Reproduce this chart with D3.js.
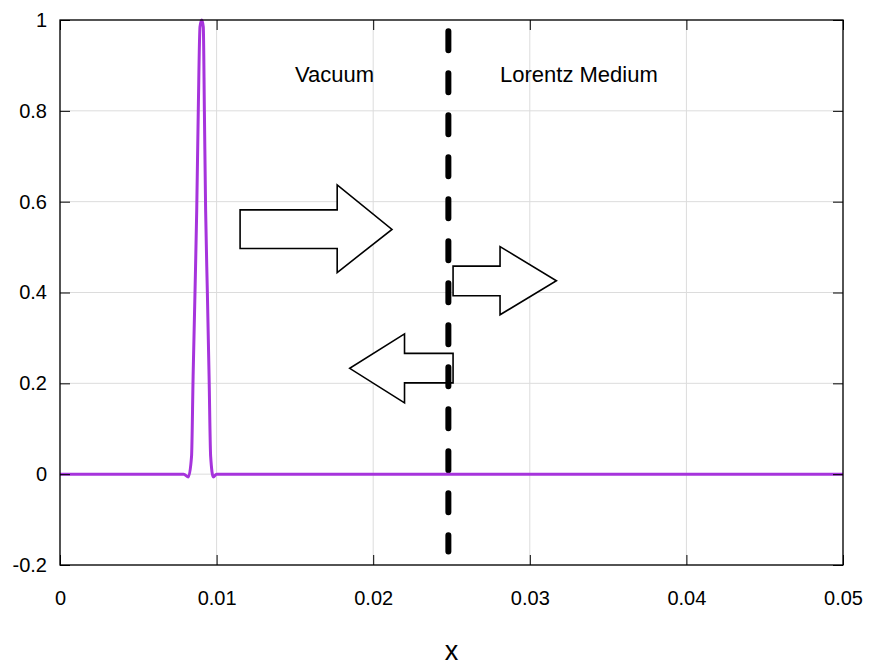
<!DOCTYPE html>
<html>
<head>
<meta charset="utf-8">
<script src="https://cdn.jsdelivr.net/npm/d3@7"></script>
<style>
  body { margin: 0; background: #fff; }
  text { font-family: "Liberation Sans", Arial, Helvetica, sans-serif; fill: #000; }
</style>
</head>
<body>
<div id="chart"></div>
<script>
// pulse (x, field)
const pulseX = [0, 0.0079, 0.0082, 0.0084, 0.0085, 0.00862, 0.00873, 0.00883, 0.00894, 0.00905,
                0.00915, 0.00922, 0.0093, 0.00941, 0.00952, 0.00962, 0.00979, 0.0100, 0.05];
const pulseY = [0, 0, -0.006, 0.039, 0.215, 0.40, 0.58, 0.80, 0.985, 1.0,
                0.985, 0.80, 0.58, 0.40, 0.215, 0.039, -0.006, 0, 0];

const xTicks = [0, 0.01, 0.02, 0.03, 0.04, 0.05];
const yTicks = [-0.2, 0, 0.2, 0.4, 0.6, 0.8, 1];

// interface between vacuum and medium
const interfaceX = 0.0248;
const interfaceY = [0.975, -0.17];

// arrow outlines in data units
const incidentArrow = [[0.0115, 0.582], [0.0177, 0.582], [0.0177, 0.637], [0.0212, 0.539],
                       [0.0177, 0.444], [0.0177, 0.497], [0.0115, 0.497]];
const transmitArrow = [[0.0251, 0.458], [0.0281, 0.458], [0.0281, 0.501], [0.0317, 0.426],
                       [0.0281, 0.351], [0.0281, 0.393], [0.0251, 0.393]];
const reflectArrow = [[0.0251, 0.266], [0.0220, 0.266], [0.0220, 0.309], [0.0185, 0.233],
                      [0.0220, 0.157], [0.0220, 0.201], [0.0251, 0.201]];

const labels = [
    { text: "Vacuum", x: 0.015, y: 0.88 },
    { text: "Lorentz Medium", x: 0.0281, y: 0.88 }
];

const margin = { top: 20, right: 27, bottom: 104, left: 60 };
const width = 870 - margin.left - margin.right;
const height = 669 - margin.top - margin.bottom;

const svg = d3.select("#chart").append("svg")
    .attr("width", 870)
    .attr("height", 669)
    .append("g")
    .attr("transform", `translate(${margin.left},${margin.top})`);

const x = d3.scaleLinear().domain([0, 0.05]).range([0, width]);
const y = d3.scaleLinear().domain([-0.2, 1]).range([height, 0]);

// grid
svg.append("g").selectAll("line.vg")
    .data(xTicks).enter().append("line")
    .attr("x1", d => x(d)).attr("x2", d => x(d))
    .attr("y1", 0).attr("y2", height)
    .attr("stroke", "#dcdcdc").attr("stroke-width", 1);
svg.append("g").selectAll("line.hg")
    .data(yTicks).enter().append("line")
    .attr("y1", d => y(d)).attr("y2", d => y(d))
    .attr("x1", 0).attr("x2", width)
    .attr("stroke", "#dcdcdc").attr("stroke-width", 1);

// arrows
const poly = d3.line().x(d => x(d[0])).y(d => y(d[1]));
[incidentArrow, transmitArrow, reflectArrow].forEach(a => {
    svg.append("path")
        .attr("d", poly(a) + "Z")
        .attr("fill", "#fff")
        .attr("stroke", "#000")
        .attr("stroke-width", 1.6)
        .attr("stroke-linejoin", "miter");
});

// dashed interface
svg.append("line")
    .attr("x1", x(interfaceX)).attr("x2", x(interfaceX))
    .attr("y1", y(interfaceY[0])).attr("y2", y(interfaceY[1]))
    .attr("stroke", "#000")
    .attr("stroke-width", 6)
    .attr("stroke-linecap", "round")
    .attr("stroke-dasharray", "19 23");

// labels
svg.selectAll(".region-label")
    .data(labels).enter().append("text")
    .attr("class", "region-label")
    .attr("x", d => x(d.x))
    .attr("y", d => y(d.y))
    .attr("dy", "0.35em")
    .style("font-size", "22px")
    .text(d => d.text);

// pulse
const line = d3.line()
    .x((d, i) => x(pulseX[i]))
    .y(d => y(d))
    .curve(d3.curveMonotoneX);

svg.append("path")
    .datum(pulseY)
    .attr("d", line)
    .attr("fill", "none")
    .attr("stroke", "#a634dc")
    .attr("stroke-width", 3);

// frame
svg.append("rect")
    .attr("width", width).attr("height", height)
    .attr("fill", "none").attr("stroke", "#000").attr("stroke-width", 1.3);

// inner ticks on all four sides
const tickLen = 10;
svg.append("g").call(d3.axisLeft(y).tickValues(yTicks).tickSize(-tickLen).tickFormat(""))
    .call(g => g.select(".domain").remove());
svg.append("g").attr("transform", `translate(${width},0)`)
    .call(d3.axisRight(y).tickValues(yTicks).tickSize(-tickLen).tickFormat(""))
    .call(g => g.select(".domain").remove());
svg.append("g").attr("transform", `translate(0,${height})`)
    .call(d3.axisBottom(x).tickValues(xTicks).tickSize(-tickLen).tickFormat(""))
    .call(g => g.select(".domain").remove());
svg.append("g")
    .call(d3.axisTop(x).tickValues(xTicks).tickSize(-tickLen).tickFormat(""))
    .call(g => g.select(".domain").remove());

// tick labels
svg.append("g")
    .call(d3.axisLeft(y).tickValues(yTicks).tickSize(0).tickPadding(13).tickFormat(d => String(d)))
    .call(g => g.select(".domain").remove())
    .selectAll("text").style("font-size", "20px").attr("font-family", null);
svg.append("g").attr("transform", `translate(0,${height})`)
    .call(d3.axisBottom(x).tickValues(xTicks).tickSize(0).tickPadding(26).tickFormat(d => String(d)))
    .call(g => g.select(".domain").remove())
    .selectAll("text").style("font-size", "20px").attr("font-family", null);

svg.selectAll(".tick line").attr("stroke", "#000");

// axis title
svg.append("text")
    .attr("x", width / 2)
    .attr("y", height + 95)
    .attr("text-anchor", "middle")
    .style("font-size", "27px")
    .text("x");
</script>
</body>
</html>
